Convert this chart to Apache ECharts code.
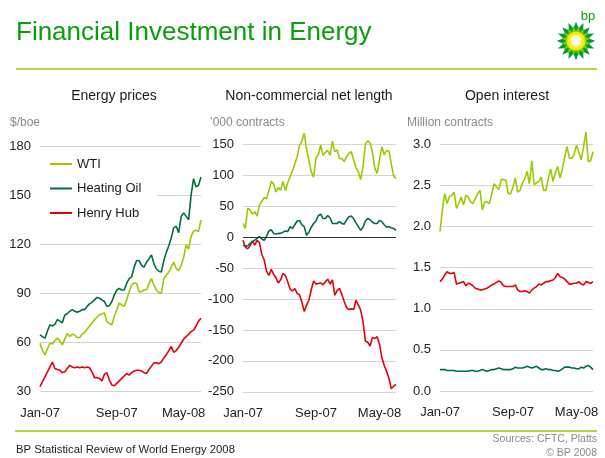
<!DOCTYPE html>
<html>
<head>
<meta charset="utf-8">
<script src="https://cdn.jsdelivr.net/npm/echarts@6/dist/echarts.min.js"></script>
<style>
  html, body { margin: 0; padding: 0; background: #fff; }
  #chart { width: 605px; height: 458px; }
</style>
</head>
<body>
<div id="chart"></div>
<script>
// Weekly observations, Jan 2007 - mid 2008
const tickLabels = ["Jan-07", "Sep-07", "May-08"];
const tickIndex = [0, 31, 58];

// Energy prices, $/boe
const priceWti = [59.5, 55, 52.4, 56, 59.5, 59, 61, 62.6, 61, 58.5, 62, 65.5, 63.6, 65, 64.5, 63, 63, 65, 66, 68, 70, 72, 73.8, 75.5, 76.8, 77.5, 78, 72.7, 71.5, 70.7, 76, 80, 84, 83, 82, 86, 91, 95, 96.5, 96, 91, 91, 92, 92, 96, 99, 95, 92, 90.5, 90, 99, 101, 103, 106, 109, 105, 104, 107, 112, 119.5, 117, 124.6, 128, 128.5, 127.7, 134.8];
const priceHeating = [64.6, 63.5, 62.6, 67, 70.7, 70, 71, 74, 73, 72, 76.8, 77.5, 79, 80, 79, 78.5, 79, 80, 80, 82, 83.5, 84.5, 86, 87.5, 87, 86, 85, 82, 82.5, 85, 89, 92, 93, 92, 92, 96, 99, 100, 106, 110, 110, 107, 106, 109, 111, 113.5, 108, 105, 103.5, 103, 110, 115, 119, 124, 130, 131, 127, 137, 139, 137, 135, 150, 160, 155, 156, 161];
const priceHenry = [33, 36, 39, 42, 45, 48, 44, 43.5, 43, 41.5, 42, 44, 46, 45, 44.5, 45, 44.5, 45, 44.5, 45, 44.5, 42, 38.5, 38.5, 38, 36.5, 40.5, 41.5, 37, 34, 33.5, 35, 36.5, 38, 39.5, 41, 40, 41.5, 42.5, 43, 43, 42.5, 41.5, 41, 43.5, 45.5, 47.5, 47.5, 47, 48, 50.5, 52.5, 55, 57.5, 54, 55, 57, 59.5, 62, 63.5, 65, 66.6, 67.5, 70, 73, 74.8];

// Non-commercial net length, '000 contracts
const netWti = [22, 14, 47, 44, 37, 41, 34, 52, 58, 64, 62, 75, 90, 86, 73, 80, 76, 90, 75, 88, 98, 107, 118, 130, 148, 155, 168, 142, 125, 105, 97, 128, 133, 149, 132, 137, 140, 132, 155, 138, 141, 127, 127, 122, 130, 135, 138, 125, 112, 106, 93, 115, 150, 156, 152, 137, 111, 103, 125, 146, 133, 140, 139, 118, 99, 95];
const netHeating = [-13, -15, -14, -10, -7.5, -5, -2, 1, -3, -5, 1, 10, 12, 6, 5, 6, 6, 8, 10, 9, 17, 14, 20, 26, 27, 20, 17, 3, 8, 16, 22, 26, 35, 37, 30, 30, 35, 31, 22, 22, 22, 25, 22, 21, 28, 33, 34, 30, 23, 17, 11, 16, 26, 30, 28, 24, 22, 22, 27, 25, 20, 16, 17, 15, 14, 11];
const netHenry = [-5, -16, -19, -14, -6, -13, -5, -9, -28, -37, -55, -62, -52, -60, -66, -74, -69, -59, -62, -72, -84, -87, -83, -91, -93, -105, -120, -110, -102, -85, -71, -76, -75, -74, -77, -72, -68, -76, -69, -94, -86, -83, -93, -104, -114, -117, -116, -117, -102, -110, -118, -137, -168, -170, -176, -162, -164, -161, -173, -195, -207, -217, -228, -245, -241, -238];

// Open interest, million contracts
const oiWti = [1.94, 2.20, 2.40, 2.28, 2.36, 2.38, 2.42, 2.22, 2.28, 2.36, 2.26, 2.38, 2.36, 2.30, 2.28, 2.34, 2.40, 2.44, 2.20, 2.30, 2.30, 2.28, 2.40, 2.52, 2.48, 2.45, 2.57, 2.57, 2.56, 2.40, 2.40, 2.48, 2.59, 2.42, 2.44, 2.53, 2.58, 2.67, 2.52, 2.80, 2.51, 2.53, 2.55, 2.60, 2.44, 2.44, 2.58, 2.70, 2.55, 2.65, 2.73, 2.59, 2.70, 2.85, 2.97, 2.83, 2.83, 2.88, 2.99, 2.90, 2.81, 2.97, 3.15, 2.79, 2.80, 2.91];
const oiHeating = [0.26, 0.26, 0.26, 0.25, 0.25, 0.25, 0.25, 0.24, 0.24, 0.24, 0.24, 0.24, 0.24, 0.25, 0.25, 0.24, 0.24, 0.25, 0.26, 0.25, 0.24, 0.25, 0.26, 0.26, 0.27, 0.28, 0.27, 0.26, 0.26, 0.26, 0.26, 0.27, 0.29, 0.28, 0.28, 0.28, 0.29, 0.30, 0.29, 0.28, 0.29, 0.30, 0.28, 0.26, 0.26, 0.27, 0.26, 0.26, 0.25, 0.25, 0.24, 0.25, 0.27, 0.29, 0.29, 0.29, 0.28, 0.28, 0.27, 0.27, 0.29, 0.28, 0.30, 0.31, 0.29, 0.26];
const oiHenry = [1.33, 1.36, 1.41, 1.45, 1.43, 1.43, 1.44, 1.30, 1.31, 1.32, 1.33, 1.28, 1.31, 1.30, 1.28, 1.25, 1.24, 1.23, 1.23, 1.24, 1.25, 1.27, 1.29, 1.30, 1.32, 1.34, 1.32, 1.28, 1.27, 1.27, 1.27, 1.27, 1.29, 1.23, 1.21, 1.21, 1.22, 1.21, 1.19, 1.23, 1.25, 1.27, 1.30, 1.29, 1.31, 1.33, 1.33, 1.34, 1.35, 1.38, 1.43, 1.39, 1.38, 1.36, 1.33, 1.30, 1.30, 1.31, 1.31, 1.33, 1.30, 1.29, 1.33, 1.32, 1.31, 1.33];

const categories = priceWti.map((v, i) => {
  const k = tickIndex.indexOf(i);
  return k >= 0 ? tickLabels[k] : "";
});

const WTI_COLOR = "#99cc00";
const HEAT_COLOR = "#006f3c";
const HENRY_COLOR = "#e3000f";
const FONT = "Liberation Sans, Arial, sans-serif";

const chart = echarts.init(document.getElementById("chart"));

// Panel boxes
const grids = [
  { left: 40, width: 161, top: 146, height: 245.5 },
  { left: 243, width: 153, top: 144.3, height: 247.5 },
  { left: 440, width: 153, top: 144.3, height: 246.7 },
];

const xAxes = grids.map((g, i) => ({
  type: "category",
  gridIndex: i,
  data: categories,
  boundaryGap: false,
  axisLine: { show: false },
  axisTick: { show: false },
  axisLabel: {
    interval: (idx) => tickIndex.includes(idx),
    color: "#222",
    fontSize: 13,
    fontFamily: FONT,
    margin: 15,
  },
}));

const yBase = {
  type: "value",
  axisLine: { show: false },
  axisTick: { show: false },
  splitLine: { lineStyle: { color: "#d4d4d4", width: 1 } },
  axisLabel: { color: "#222", fontSize: 13, fontFamily: FONT, margin: 9 },
};
const yAxes = [
  Object.assign({}, yBase, { gridIndex: 0, min: 30, max: 180, interval: 30 }),
  Object.assign({}, yBase, { gridIndex: 1, min: -250, max: 150, interval: 50 }),
  Object.assign({}, yBase, {
    gridIndex: 2, min: 0, max: 3, interval: 0.5,
    axisLabel: Object.assign({}, yBase.axisLabel, { formatter: (v) => v.toFixed(1) }),
  }),
];

const line = (name, data, idx, color, extra) => Object.assign({
  name: name,
  type: "line",
  xAxisIndex: idx,
  yAxisIndex: idx,
  data: data,
  symbol: "none",
  clip: false,
  lineStyle: { color: color, width: 1.6 },
  itemStyle: { color: color },
}, extra || {});

const series = [
  line("Henry Hub", priceHenry, 0, HENRY_COLOR),
  line("WTI", priceWti, 0, WTI_COLOR),
  line("Heating Oil", priceHeating, 0, HEAT_COLOR),
  line("Henry Hub", netHenry, 1, HENRY_COLOR, {
    markLine: {
      silent: true,
      symbol: "none",
      label: { show: false },
      lineStyle: { color: "#333", width: 1, type: "solid" },
      data: [{ yAxis: 0 }],
    },
  }),
  line("Heating Oil", netHeating, 1, HEAT_COLOR),
  line("WTI", netWti, 1, WTI_COLOR),
  line("Heating Oil", oiHeating, 2, HEAT_COLOR),
  line("Henry Hub", oiHenry, 2, HENRY_COLOR),
  line("WTI", oiWti, 2, WTI_COLOR),
];

// bp helios mark
const star = (cx, cy, rOut, rIn, n, rot) => {
  const pts = [];
  for (let i = 0; i < n * 2; i++) {
    const r = i % 2 === 0 ? rOut : rIn;
    const a = rot + (Math.PI * i) / n;
    pts.push([cx + r * Math.sin(a), cy - r * Math.cos(a)]);
  }
  return pts;
};
const logoX = 576, logoY = 41;

const txt = (x, y, text, size, color, align, weight) => ({
  type: "text",
  x: x,
  y: y,
  style: {
    text: text,
    fontSize: size,
    fontFamily: FONT,
    fontWeight: weight || "normal",
    fill: color,
    align: align || "left",
    verticalAlign: "middle",
  },
});

const graphic = [
  txt(16, 33, "Financial Investment in Energy", 26, "#0a9e0a"),
  { type: "line", shape: { x1: 16, y1: 69, x2: 597, y2: 69 }, style: { stroke: "#99cc00", lineWidth: 1.5 } },
  { type: "polygon", shape: { points: star(logoX, logoY, 19.5, 13, 16, 0) }, style: { fill: "#009a3a" } },
  { type: "polygon", shape: { points: star(logoX, logoY, 15, 10, 16, Math.PI / 16) }, style: { fill: "#79c80e" } },
  {
    type: "circle",
    shape: { cx: logoX, cy: logoY, r: 9.5 },
    style: {
      fill: new echarts.graphic.RadialGradient(0.5, 0.5, 0.5, [
        { offset: 0, color: "#ffffff" },
        { offset: 0.45, color: "#ffffff" },
        { offset: 0.7, color: "#fff200" },
        { offset: 1, color: "#e8e000" },
      ]),
    },
  },
  txt(588, 16, "bp", 13, "#0a9e0a", "center"),
  txt(114, 96, "Energy prices", 14, "#1a1a1a", "center"),
  txt(309, 96, "Non-commercial net length", 14, "#1a1a1a", "center"),
  txt(507, 96, "Open interest", 14, "#1a1a1a", "center"),
  txt(10, 123, "$/boe", 12, "#8a8a8a"),
  txt(210, 123, "\u2019000 contracts", 12, "#8a8a8a"),
  txt(407, 123, "Million contracts", 12, "#8a8a8a"),
  { type: "line", shape: { x1: 15, y1: 431, x2: 597, y2: 431 }, style: { stroke: "#99cc00", lineWidth: 1.5 } },
  txt(16, 450, "BP Statistical Review of World Energy 2008", 11.3, "#222"),
  txt(597, 439, "Sources: CFTC, Platts", 10.5, "#8a8a8a", "right"),
  txt(597, 453, "\u00a9 BP 2008", 10.5, "#8a8a8a", "right"),
];

chart.setOption({
  animation: false,
  grid: grids,
  xAxis: xAxes,
  yAxis: yAxes,
  legend: {
    data: ["WTI", "Heating Oil", "Henry Hub"],
    orient: "vertical",
    left: 40,
    top: 151,
    padding: [6, 16, 6, 10],
    backgroundColor: "#fff",
    icon: "rect",
    itemWidth: 22,
    itemHeight: 2,
    itemGap: 10.5,
    textStyle: { color: "#1a1a1a", fontSize: 13, fontFamily: FONT, lineHeight: 14 },
  },
  graphic: graphic,
  series: series,
});
</script>
</body>
</html>
